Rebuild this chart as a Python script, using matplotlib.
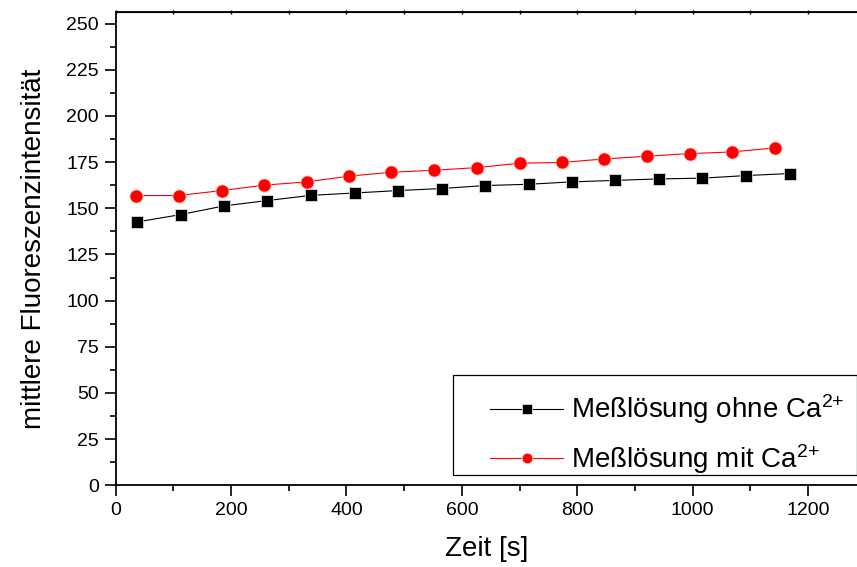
import matplotlib.pyplot as plt
from matplotlib.ticker import MultipleLocator
from matplotlib.patches import Rectangle
import numpy as np

plt.rcParams['font.family'] = ['Liberation Sans', 'DejaVu Sans']
plt.rcParams['mathtext.fontset'] = 'custom'
plt.rcParams['mathtext.rm'] = 'Liberation Sans'
plt.rcParams['mathtext.it'] = 'Liberation Sans'

t_ohne = [37, 113, 188, 263, 339, 415, 490, 565, 640, 716, 791, 866, 942, 1017, 1092, 1168]
f_ohne = [142.6, 146.6, 151.3, 154.2, 157.0, 158.3, 159.6, 160.7,
          162.3, 163.0, 164.3, 165.1, 165.9, 166.3, 167.7, 168.8]
t_mit = [36, 109, 184, 257, 331, 405, 478, 552, 626, 700, 773, 847, 921, 995, 1069, 1143]
f_mit = [156.9, 156.9, 159.6, 162.5, 164.3, 167.4, 169.5, 170.6,
         172.0, 174.4, 174.8, 176.7, 178.2, 179.6, 180.5, 182.7]

fig = plt.figure(figsize=(8.57, 5.67), dpi=100)
ax = fig.add_axes([0.135, 0.144, 0.865, 0.834])

ax.plot(t_ohne, f_ohne, color='black', lw=0.8, marker='s', ms=8.5,
        mec='#dddddd', mew=0.6, label='Meßlösung ohne Ca$^{2{+}}$')
ax.plot(t_mit, f_mit, color='red', lw=0.8, marker='o', ms=9.5,
        mec='#ffcccc', mew=0.6, label='Meßlösung mit Ca$^{2{+}}$')

ax.set_xlim(0, 1285)
ax.set_ylim(0, 256)
ax.xaxis.set_major_locator(MultipleLocator(200))
ax.xaxis.set_minor_locator(MultipleLocator(100))
ax.yaxis.set_major_locator(MultipleLocator(25))
ax.yaxis.set_minor_locator(MultipleLocator(12.5))
ax.tick_params(which='major', direction='out', length=8, width=1.2, labelsize=14, pad=4)
ax.tick_params(which='minor', direction='out', length=4, width=1.2)

for s in ['left', 'bottom', 'top']:
    ax.spines[s].set_linewidth(1.3)
ax.spines['right'].set_visible(False)

top = ax.secondary_xaxis('top')
top.xaxis.set_major_locator(MultipleLocator(100))
top.tick_params(direction='inout', length=3, width=1.0, labeltop=False)

ax.set_xlabel('Zeit [s]', fontsize=20, labelpad=12)
ax.set_ylabel('mittlere Fluoreszenzintensität', fontsize=20, labelpad=14)

# Legendenrahmen wie im Original (Einträge rechtsbündig im Kasten)
frame = Rectangle((0.4546, 0.022), 0.5454, 0.211, transform=ax.transAxes,
                  fill=False, edgecolor='black', lw=0.9, clip_on=False, zorder=5)
ax.add_patch(frame)
leg = ax.legend(loc='lower right', bbox_to_anchor=(1.0, -0.006),
                borderaxespad=0, fontsize=20, frameon=False,
                numpoints=1, markerscale=0.8,
                handlelength=2.6, handletextpad=0.3, labelspacing=0.56,
                borderpad=0.45)

fig.savefig('out.png', dpi=100)
